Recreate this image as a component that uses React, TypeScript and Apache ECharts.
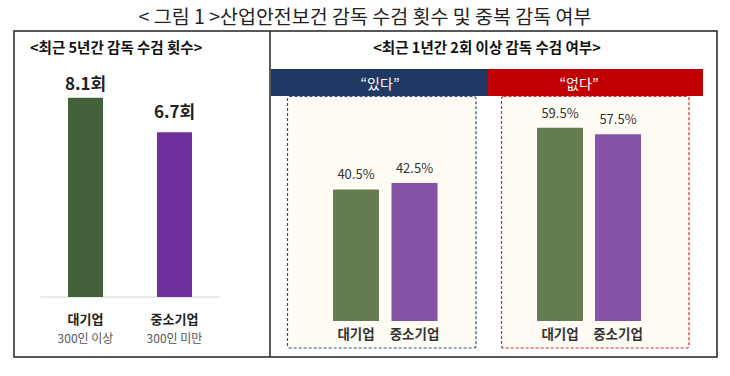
import React, { useEffect, useRef } from "react";
import * as echarts from "echarts";

const mainTitle = "< 그림 1 >산업안전보건 감독 수검 횟수 및 중복 감독 여부";
const leftTitle = "<최근 5년간 감독 수검 횟수>";
const rightTitle = "<최근 1년간 2회 이상 감독 수검 여부>";
const companies = ["대기업", "중소기업"];
const companySub = ["300인 이상", "300인 미만"];
const inspections5y = [8.1, 6.7];
const groupYes = "“있다”";
const groupNo = "“없다”";
const yesShare = [40.5, 42.5];
const noShare = [59.5, 57.5];

const FONT = "'Noto Sans CJK KR', 'Noto Sans', sans-serif";

export default function App() {
  const ref = useRef<HTMLDivElement>(null);
  useEffect(() => {
    if (!ref.current) return;
    const chart = echarts.init(ref.current, null, { renderer: "svg" });
    const darkColors = ["#43613a", "#7030a0"];
    const lightColors = ["#647c4f", "#8652a6"];
    const labelDist = [7, 13];
    const catAxis = (gridIndex: number, sub: boolean) => ({
      type: "category",
      gridIndex,
      z: 10,
      data: companies,
      axisTick: { show: false },
      axisLine: { show: gridIndex === 0, lineStyle: { color: "#e3e3e3", width: 1.5 } },
      axisLabel: sub
        ? {
            interval: 0,
            hideOverlap: false,
            margin: 12,
            formatter: (v: string, i: number) => `{a|${v}}\n{b|${companySub[i]}}`,
            rich: {
              a: { fontFamily: FONT, fontSize: 13, fontWeight: "bold", color: "#222", lineHeight: 19 },
              b: { fontFamily: FONT, fontSize: 12, color: "#555", lineHeight: 18 },
            },
          }
        : {
            interval: 0,
            hideOverlap: false,
            margin: 5,
            fontFamily: FONT,
            fontSize: 13.5,
            fontWeight: "bold",
            color: "#333",
          },
    });
    const valAxis = (gridIndex: number, max: number) => ({
      type: "value",
      gridIndex,
      min: 0,
      max,
      show: false,
      splitLine: { show: false },
    });
    const pctSeries = (idx: number, vals: number[]) => ({
      type: "bar",
      xAxisIndex: idx,
      yAxisIndex: idx,
      barWidth: 46,
      z: 10,
      data: vals.map((v, i) => ({ value: v, itemStyle: { color: lightColors[i] } })),
      label: {
        show: true,
        position: "top",
        distance: 9,
        formatter: "{c}%",
        fontFamily: FONT,
        fontSize: 13,
        color: "#333",
      },
    });
    chart.setOption({
      animation: false,
      grid: [
        { left: 41, width: 178, top: 297 - 246, height: 246 },
        { left: 326.75, width: 117, top: 321 - 227.5, height: 227.5 },
        { left: 531, width: 116, top: 321 - 227.5, height: 227.5 },
      ],
      xAxis: [catAxis(0, true), catAxis(1, false), catAxis(2, false)],
      yAxis: [valAxis(0, 10), valAxis(1, 70), valAxis(2, 70)],
      series: [
        {
          type: "bar",
          xAxisIndex: 0,
          yAxisIndex: 0,
          barWidth: 35,
          z: 10,
          data: inspections5y.map((v, i) => ({
            value: v,
            itemStyle: { color: darkColors[i] },
            label: { distance: labelDist[i] },
          })),
          label: {
            show: true,
            position: "top",
            formatter: "{c}회",
            fontFamily: FONT,
            fontSize: 17,
            fontWeight: "bold",
            color: "#222",
          },
        },
        pctSeries(1, yesShare),
        pctSeries(2, noShare),
      ],
      graphic: [
        {
          type: "text",
          x: 365,
          y: 15,
          z: 0,
          style: {
            text: mainTitle,
            fontFamily: FONT,
            fontSize: 19.5,
            fill: "#222",
            align: "center",
            verticalAlign: "middle",
          },
        },
        {
          type: "rect",
          z: 0,
          shape: { x: 14, y: 31, width: 703, height: 326 },
          style: { fill: "#fff", stroke: "#222", lineWidth: 1.5 },
        },
        {
          type: "line",
          z: 1,
          shape: { x1: 270, y1: 31, x2: 270, y2: 357 },
          style: { stroke: "#222", lineWidth: 1.5 },
        },
        {
          type: "text",
          x: 30,
          y: 46,
          z: 1,
          style: {
            text: leftTitle,
            fontFamily: FONT,
            fontSize: 14.5,
            fontWeight: "bold",
            fill: "#111",
            align: "left",
            verticalAlign: "middle",
          },
        },
        {
          type: "text",
          x: 487,
          y: 46,
          z: 1,
          style: {
            text: rightTitle,
            fontFamily: FONT,
            fontSize: 14.5,
            fontWeight: "bold",
            fill: "#111",
            align: "center",
            verticalAlign: "middle",
          },
        },
        {
          type: "rect",
          z: 1,
          shape: { x: 271, y: 69, width: 216, height: 27 },
          style: { fill: "#1f3864" },
        },
        {
          type: "rect",
          z: 1,
          shape: { x: 487, y: 69, width: 216, height: 27 },
          style: { fill: "#c00000" },
        },
        {
          type: "text",
          x: 380,
          y: 82.5,
          z: 2,
          style: {
            text: groupYes,
            fontFamily: FONT,
            fontSize: 14,
            fill: "#fff",
            align: "center",
            verticalAlign: "middle",
          },
        },
        {
          type: "text",
          x: 579,
          y: 82.5,
          z: 2,
          style: {
            text: groupNo,
            fontFamily: FONT,
            fontSize: 14,
            fill: "#fff",
            align: "center",
            verticalAlign: "middle",
          },
        },
        {
          type: "rect",
          z: 1,
          shape: { x: 287.5, y: 96.5, width: 188.5, height: 251.5, r: 2 },
          style: { fill: "#fffcf5", stroke: "#2f4f86", lineWidth: 1.2, lineDash: [3, 2] },
        },
        {
          type: "rect",
          z: 1,
          shape: { x: 501.5, y: 96.5, width: 187.5, height: 251.5, r: 2 },
          style: { fill: "#fffcf5", stroke: "#d42a33", lineWidth: 1.2, lineDash: [3, 2] },
        },
      ],
    });
    return () => chart.dispose();
  }, []);
  return <div ref={ref} style={{ width: 730, height: 376, position: "absolute", left: 0, top: 0 }} />;
}
